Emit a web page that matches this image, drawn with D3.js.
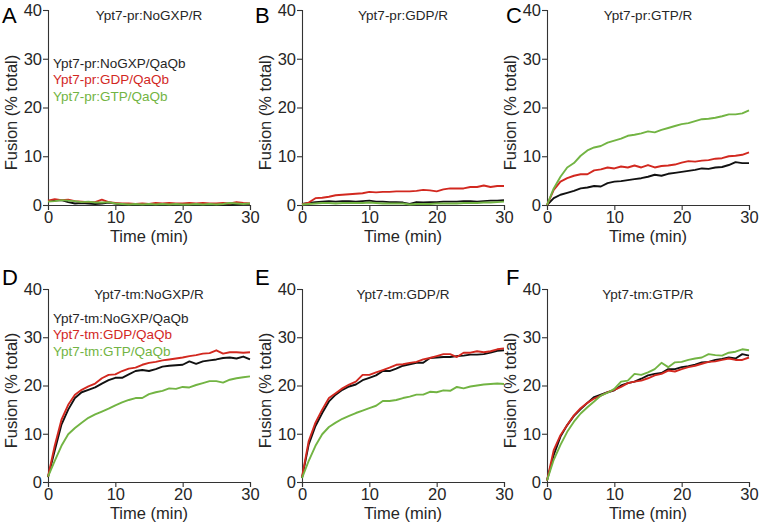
<!DOCTYPE html>
<head>
<meta charset="utf-8">
<title>Fusion kinetics</title>
<style>
  body { margin: 0; background: #fff; }
  svg text { font-family: "Liberation Sans", Arial, sans-serif; }
</style>
</head>
<body>
<script src="https://cdn.jsdelivr.net/npm/d3@7"></script>
<script>

// time axis (min)
const minutes = [0,1,2,3,4,5,6,7,8,9,10,11,12,13,14,15,16,17,18,19,20,21,22,23,24,25,26,27,28,29,30];
const xTicks = [0, 10, 20, 30];
const yTicks = [0, 10, 20, 30, 40];

const panelLetters = ["A", "B", "C", "D", "E", "F"];
const panelTitles = ["Ypt7-pr:NoGXP/R", "Ypt7-pr:GDP/R", "Ypt7-pr:GTP/R",
                     "Ypt7-tm:NoGXP/R", "Ypt7-tm:GDP/R", "Ypt7-tm:GTP/R"];
const legendPr = ["Ypt7-pr:NoGXP/QaQb", "Ypt7-pr:GDP/QaQb", "Ypt7-pr:GTP/QaQb"];
const legendTm = ["Ypt7-tm:NoGXP/QaQb", "Ypt7-tm:GDP/QaQb", "Ypt7-tm:GTP/QaQb"];

// fusion (% total)
const aNoGXP = [0.8,0.9,1.0,0.6,0.3,0.4,0.3,0.2,0.3,0.5,0.3,0.1,0.0,0.1,0.0,0.1,0.0,0.1,0.0,0.1,0.1,0.0,0.1,0.0,0.1,0.0,0.1,0.0,0.1,0.2,0.2];
const aGDP   = [0.9,1.2,1.0,1.1,0.8,0.7,0.6,0.6,1.1,0.6,0.4,0.3,0.3,0.2,0.3,0.2,0.4,0.3,0.4,0.3,0.3,0.4,0.3,0.4,0.3,0.3,0.4,0.3,0.6,0.4,0.3];
const aGTP   = [0.7,0.8,1.0,0.9,0.8,0.6,0.7,0.5,0.5,0.6,0.3,0.2,0.1,0.2,0.1,0.2,0.1,0.2,0.1,0.2,0.1,0.1,0.2,0.1,0.2,0.1,0.2,0.4,0.3,0.2,0.3];

const bNoGXP = [0.2,0.4,0.6,0.7,0.8,0.7,0.8,0.8,0.7,0.8,0.9,0.7,0.7,0.6,0.6,0.5,0.2,0.6,0.5,0.6,0.6,0.7,0.7,0.7,0.8,0.8,0.7,0.8,0.9,0.9,1.0];
const bGDP   = [0.1,0.5,1.4,1.5,1.7,2.0,2.1,2.2,2.3,2.4,2.7,2.6,2.7,2.7,2.8,2.8,2.8,2.9,3.1,3.0,2.8,3.2,3.4,3.4,3.4,3.7,3.7,4.0,3.7,3.9,3.9];
const bGTP   = [0.1,0.2,0.3,0.4,0.4,0.3,0.4,0.4,0.4,0.4,0.5,0.4,0.3,0.3,0.3,0.3,0.1,0.2,0.2,0.2,0.3,0.3,0.3,0.3,0.4,0.4,0.4,0.5,0.5,0.6,0.7];

const cNoGXP = [0,1.4,2.1,2.5,2.9,3.4,3.6,3.9,3.8,4.5,4.8,4.9,5.1,5.3,5.5,5.8,6.2,6.0,6.4,6.6,6.8,7.0,7.2,7.5,7.4,7.7,7.8,8.2,8.8,8.6,8.6];
const cGDP   = [0,3.1,4.8,5.5,6.0,6.3,6.3,7.1,7.3,7.7,7.5,7.9,7.7,8.1,7.7,8.2,7.7,8.0,8.1,8.3,8.7,9.0,8.9,9.1,9.2,9.5,9.6,10.0,10.1,10.3,10.8];
const cGTP   = [0,3.4,5.8,7.7,8.6,10.1,11.2,11.8,12.1,12.8,13.2,13.6,14.2,14.4,14.7,15.1,14.9,15.4,15.8,16.2,16.6,16.8,17.2,17.6,17.7,17.9,18.2,18.6,18.6,18.8,19.4];

const dNoGXP = [1.0,6.5,11.9,15.0,17.4,18.6,19.1,19.6,20.4,21.1,21.6,21.6,22.3,23.0,23.2,23.0,23.4,23.9,24.1,24.2,24.3,25.0,24.5,25.0,25.2,25.4,25.7,25.8,25.6,26.0,25.4];
const dGDP   = [1.1,7.5,12.9,16.0,18.1,19.1,19.8,20.4,21.5,22.2,22.3,23.0,23.5,23.7,24.3,24.7,24.9,25.2,25.4,25.6,25.8,26.1,26.3,26.6,26.7,27.3,26.6,26.9,26.9,26.8,26.9];
const dGTP   = [1.1,4.4,7.5,9.9,11.2,12.3,13.3,14.0,14.6,15.2,15.9,16.5,17.0,17.4,17.4,18.2,18.6,18.9,19.4,19.3,19.7,19.6,20.1,20.5,20.9,20.9,20.6,21.2,21.5,21.7,21.9];

const eNoGXP = [0.8,7.8,11.6,14.3,16.7,18.1,19.1,19.8,20.2,21.1,21.6,22.1,23.0,23.0,23.5,24.1,24.4,24.7,24.7,25.7,25.8,25.9,25.9,26.1,26.2,26.4,26.4,26.5,26.8,27.2,27.3];
const eGDP   = [1.0,8.5,12.3,15.0,17.4,18.4,19.4,20.2,20.8,22.2,22.2,22.7,23.2,23.7,24.3,24.4,24.7,24.9,25.4,25.7,26.1,26.5,26.5,25.9,26.8,26.8,27.1,26.9,27.1,27.5,27.7];
const eGTP   = [0.8,4.4,7.5,9.9,11.4,12.3,13.1,13.7,14.3,14.8,15.3,15.8,16.8,16.8,17.0,17.4,17.7,18.1,18.1,18.7,18.6,19.0,18.9,19.7,19.4,19.8,20.0,20.2,20.3,20.4,20.3];

const fNoGXP = [0.3,5.6,9.4,11.8,13.7,15.1,16.4,17.6,18.1,18.6,19.0,20.0,20.5,20.8,21.4,22.1,22.4,22.6,23.4,23.4,23.8,24.0,24.3,24.8,24.9,25.3,25.5,25.8,25.6,26.5,26.2];
const fGDP   = [0.3,6.6,9.7,11.8,13.8,15.3,16.4,17.3,17.9,18.6,19.1,19.7,20.5,20.8,21.0,21.5,22.1,22.4,23.1,22.9,23.4,23.8,24.1,24.5,24.9,25.0,25.3,25.6,25.3,25.3,25.8];
const fGTP   = [0.3,4.6,7.7,10.4,12.5,14.2,15.5,16.7,17.9,18.5,19.3,20.8,21.0,22.4,22.2,22.7,23.4,24.7,23.8,24.8,24.9,25.3,25.6,25.8,26.5,26.3,26.2,26.8,27.0,27.5,27.3];

const panelSeries = [
  [aNoGXP, aGDP, aGTP], [bNoGXP, bGDP, bGTP], [cNoGXP, cGDP, cGTP],
  [dNoGXP, dGDP, dGTP], [eNoGXP, eGDP, eGTP], [fNoGXP, fGDP, fGTP]
];

const colors = ["#111111", "#d2281f", "#72b443"];
const textColor = "#262626";

const width = 762;
const height = 526;

// plot frames
const colLeft = [48, 302, 547];
const plotW = 202;
const rowTop = [10, 289];
const rowBottom = [205, 482];
const letterX = [2, 255, 506];

let svg = d3.select("body").append("svg")
    .attr("width", width)
    .attr("height", height)

panelSeries.forEach((series, i) => {
  const col = i % 3;
  const row = Math.floor(i / 3);
  const x0 = colLeft[col];
  const y0 = rowBottom[row];
  const y1 = rowTop[row];

  const x = d3.scaleLinear().domain([0, 30]).range([x0, x0 + plotW]);
  const y = d3.scaleLinear().domain([0, 40]).range([y0, y1]);

  const g = svg.append("g");

  // axes
  const xAxis = g.append("g")
      .attr("transform", `translate(0,${y0})`)
      .call(d3.axisBottom(x).tickValues(xTicks).tickSize(5).tickPadding(1));
  const yAxis = g.append("g")
      .attr("transform", `translate(${x0},0)`)
      .call(d3.axisLeft(y).tickValues(yTicks).tickSize(5).tickPadding(1));

  [xAxis, yAxis].forEach(ax => {
    ax.select(".domain").attr("stroke", "#333").attr("stroke-width", 1.1);
    ax.selectAll(".tick line").attr("stroke", "#333").attr("stroke-width", 1.1);
    ax.selectAll(".tick text")
      .attr("font-size", 16.5)
      .attr("fill", textColor)
      .style("font-family", "'Liberation Sans', Arial, sans-serif");
  });

  // lines
  const line = d3.line()
    .x((d, j) => x(minutes[j]))
    .y(d => y(d));

  series.forEach((values, k) => {
    g.append("path")
      .datum(values)
      .attr("fill", "none")
      .attr("stroke", colors[k])
      .attr("stroke-width", 1.9)
      .attr("stroke-linejoin", "round")
      .attr("d", line);
  });

  // axis titles
  g.append("text")
    .attr("transform", `translate(${x0 - 37},${(y0 + y1) / 2 + 5}) rotate(-90)`)
    .attr("text-anchor", "middle")
    .attr("dominant-baseline", "central")
    .attr("font-size", 16.5)
    .attr("fill", textColor)
    .text("Fusion (% total)");

  g.append("text")
    .attr("x", x0 + plotW / 2)
    .attr("y", y0 + 31)
    .attr("text-anchor", "middle")
    .attr("dominant-baseline", "central")
    .attr("font-size", 16.5)
    .attr("fill", textColor)
    .text("Time (min)");

  // panel title
  g.append("text")
    .attr("x", x0 + plotW / 2)
    .attr("y", y1 + 5)
    .attr("text-anchor", "middle")
    .attr("dominant-baseline", "central")
    .attr("font-size", 13.5)
    .attr("fill", textColor)
    .text(panelTitles[i]);

  // panel letter
  g.append("text")
    .attr("x", letterX[col])
    .attr("y", row === 0 ? 23 : 285)
    .attr("font-size", 22)
    .attr("fill", "#000")
    .text(panelLetters[i]);

  // legends in first column
  if (col === 0) {
    const labels = row === 0 ? legendPr : legendTm;
    const ly = row === 0 ? 63 : 318;
    labels.forEach((t, k) => {
      g.append("text")
        .attr("x", 53)
        .attr("y", ly + k * 16.5)
        .attr("dominant-baseline", "central")
        .attr("font-size", 13.5)
        .attr("fill", k === 0 ? textColor : colors[k])
        .text(t);
    });
  }
})

</script>
</body>
